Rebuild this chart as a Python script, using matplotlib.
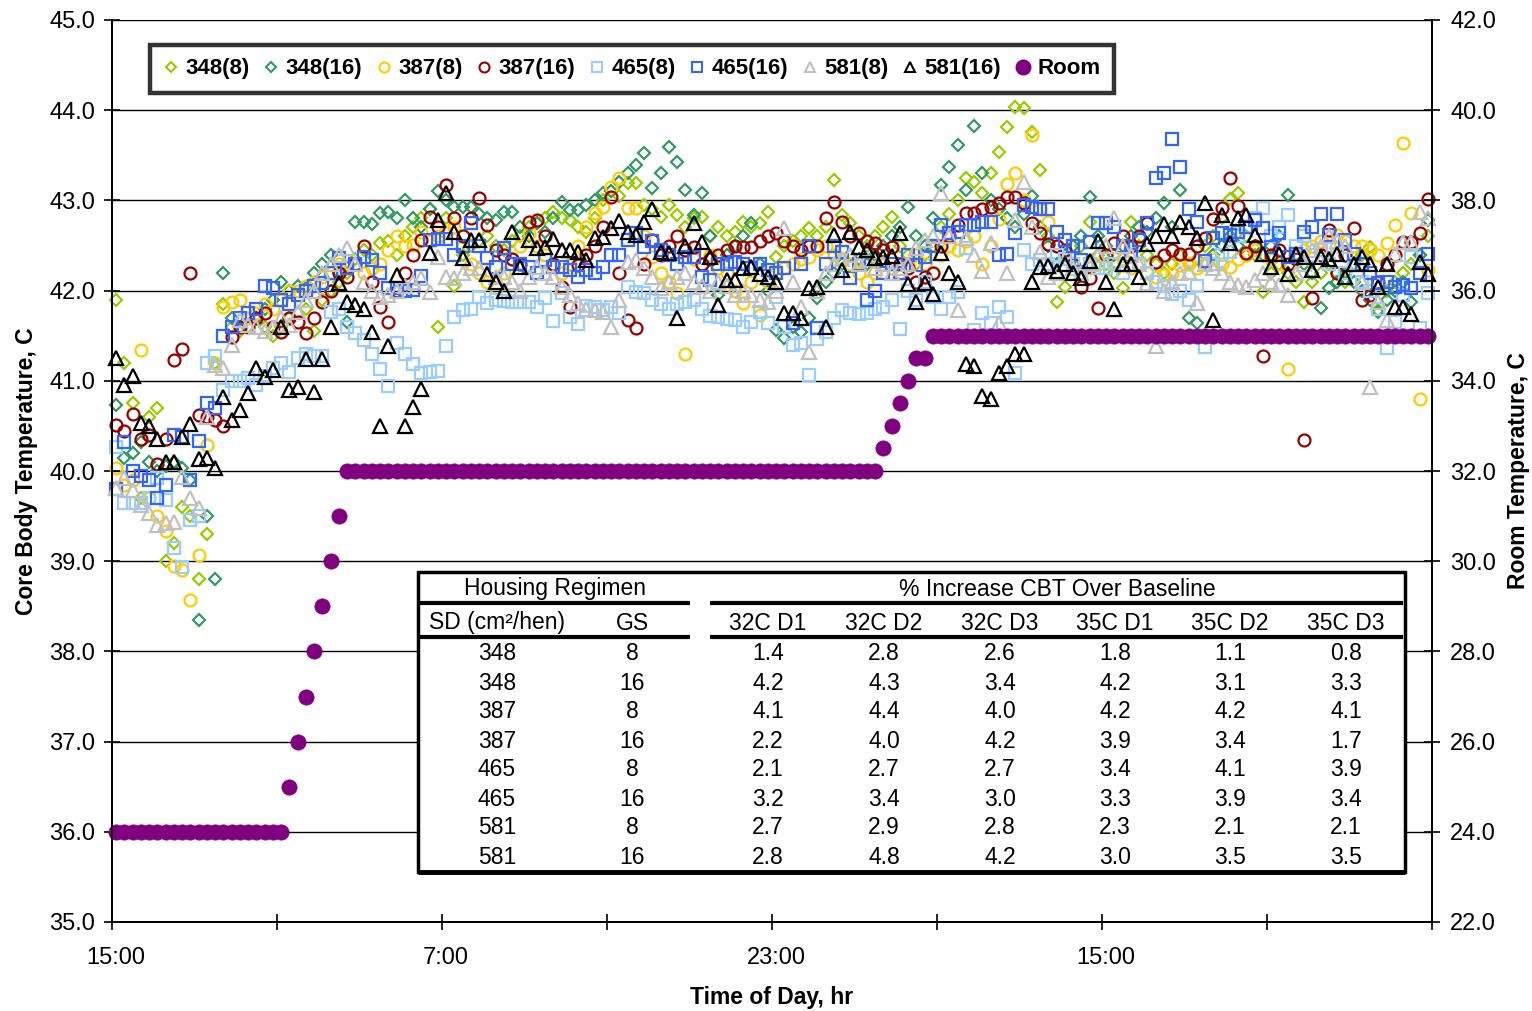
import numpy as np
import matplotlib
matplotlib.use("Agg")
import matplotlib.pyplot as plt
from matplotlib.lines import Line2D
from matplotlib.patches import Rectangle
from matplotlib.transforms import ScaledTranslation

plt.rcParams['font.family'] = ['Liberation Sans', 'DejaVu Sans']

# ---------------- data (sampling every 0.4 h, starting 0.2 h after 15:00) ----------------
n_pts = 160
hours = 0.2 + 0.4 * np.arange(n_pts)

s348_8 = [41.9, 41.2, 40.75, 39.7, 40.6, 40.7, 39.0, 39.2, 39.6, 39.5, 38.8, 39.3, 41.2, 41.85, 41.6, 41.55, 41.6, 41.7, 41.6, 41.5,
          41.6, 41.7, 41.75, 41.8, 41.55, 41.9, 42.0, 42.1, 42.2, 42.35, 42.45, 42.4, 42.53, 42.55, 42.39, 42.6, 42.7, 42.8, 42.91, 41.6,
          42.8, 42.05, 42.4, 42.5, 42.55, 42.6, 42.5, 42.45, 42.55, 42.6, 42.7, 42.75, 42.8, 42.87, 42.8, 42.78, 42.7, 42.65, 42.8, 43.0,
          43.1, 43.05, 43.19, 43.19, 42.95, 42.9, 42.82, 42.95, 42.84, 42.7, 42.8, 42.82, 42.6, 42.71, 42.6, 42.65, 42.76, 42.7, 42.75, 42.87,
          42.37, 42.5, 42.55, 42.6, 42.69, 42.6, 42.7, 43.23, 42.84, 42.75, 42.6, 42.5, 42.6, 42.7, 42.82, 42.5, 42.4, 42.3, 42.4, 42.5,
          42.7, 42.85, 43.0, 43.25, 43.2, 43.08, 43.3, 43.54, 43.81, 44.04, 44.02, 43.76, 43.34, 42.6, 41.87, 42.04, 42.3, 42.5, 42.76, 42.4,
          42.3, 42.2, 42.03, 42.76, 42.5, 42.4, 42.3, 42.19, 42.3, 42.4, 42.3, 42.35, 42.5, 42.6, 42.8, 43.01, 43.08, 42.6, 42.4, 41.98,
          42.2, 42.3, 42.2, 42.1, 41.87, 42.1, 42.2, 42.3, 42.2, 42.1, 42.3, 42.4, 42.48, 41.78, 42.0, 42.1, 42.2, 42.3, 42.4, 42.6]

s348_16 = [40.73, 40.14, 40.2, 40.32, 40.1, 40.0, 40.05, 40.1, 40.03, 39.9, 38.35, 39.5, 38.8, 42.19, 41.7, 41.6, 41.6, 41.7, 41.8, 41.9,
           42.1, 42.0, 42.05, 42.03, 42.2, 42.3, 42.4, 42.2, 41.65, 42.76, 42.76, 42.74, 42.86, 42.87, 42.8, 43.0, 42.8, 42.7, 42.9, 43.1,
           43.0, 42.93, 42.93, 42.93, 42.85, 42.8, 42.78, 42.87, 42.87, 42.7, 42.6, 42.75, 42.65, 42.8, 42.98, 42.89, 42.89, 42.95, 43.0, 43.08,
           43.1, 43.2, 43.3, 43.39, 43.52, 43.14, 43.3, 43.59, 43.43, 43.12, 42.84, 43.08, 42.6, 41.95, 42.4, 42.5, 42.6, 42.75, 42.3, 42.0,
           41.56, 41.47, 41.6, 41.54, 41.7, 41.92, 42.1, 42.2, 42.3, 42.4, 42.35, 42.3, 42.4, 42.5, 42.6, 42.7, 42.93, 42.6, 42.5, 42.8,
           43.17, 43.37, 43.61, 43.12, 43.82, 43.3, 43.0, 42.9, 42.8, 42.7, 42.85, 43.05, 42.7, 42.5, 42.3, 42.4, 42.5, 42.6, 43.04, 42.6,
           42.5, 42.4, 42.5, 42.6, 42.7, 42.65, 42.8, 42.97, 42.7, 43.12, 41.7, 41.64, 42.3, 42.4, 42.5, 42.6, 42.5, 42.4, 42.5, 42.4,
           42.5, 42.6, 43.06, 42.4, 42.3, 42.2, 41.81, 42.03, 42.1, 42.2, 42.1, 42.0, 41.9, 41.76, 41.9, 42.0, 42.1, 41.87, 42.4, 42.78]

s387_8 = [40.03, 39.85, 39.9, 41.34, 39.7, 39.5, 39.33, 38.95, 38.9, 38.57, 39.07, 40.29, 41.2, 41.82, 41.87, 41.9, 41.7, 41.75, 41.85, 41.8,
          41.9, 42.0, 42.0, 42.05, 42.1, 42.15, 42.2, 42.3, 42.25, 42.3, 42.2, 42.25, 42.3, 42.45, 42.6, 42.5, 42.51, 42.65, 42.55, 42.6,
          42.65, 42.7, 42.5, 42.3, 42.2, 42.1, 42.03, 42.2, 42.35, 42.5, 42.64, 42.5, 42.4, 42.3, 42.2, 42.3, 42.5, 42.7, 42.86, 42.93,
          43.15, 43.25, 42.92, 42.92, 42.6, 42.37, 42.2, 42.1, 41.97, 41.3, 42.35, 42.3, 42.4, 42.25, 42.2, 42.0, 41.86, 42.1, 41.73, 42.1,
          42.2, 42.25, 42.3, 42.35, 42.37, 42.45, 42.5, 42.4, 42.35, 42.3, 42.2, 42.1, 42.2, 42.3, 42.25, 42.2, 42.3, 42.4, 42.3, 42.2,
          42.4, 42.5, 42.45, 42.55, 42.6, 42.3, 42.5, 42.79, 43.18, 43.3, 43.0, 43.73, 42.9, 42.76, 42.5, 42.35, 42.3, 42.2, 42.25, 42.3,
          42.4, 42.3, 42.35, 42.25, 42.3, 42.2, 42.15, 42.17, 42.2, 42.28, 42.3, 42.25, 42.3, 42.35, 42.3, 42.26, 42.35, 42.4, 42.45, 42.4,
          42.35, 42.3, 41.13, 42.4, 42.45, 42.5, 42.55, 42.5, 42.62, 42.55, 42.5, 42.5, 42.45, 42.4, 42.53, 42.73, 43.64, 42.86, 40.8, 42.23]

s387_16 = [40.51, 40.44, 40.63, 40.35, 40.4, 40.08, 40.36, 41.23, 41.35, 42.2, 40.62, 40.6, 40.57, 40.5, 41.49, 41.6, 41.6, 41.7, 41.75, 41.6,
           41.54, 41.7, 41.65, 41.53, 41.7, 41.87, 42.0, 42.2, 42.15, 42.3, 42.5, 42.1, 41.82, 41.65, 42.0, 42.2, 42.4, 42.56, 42.82, 42.7,
           43.17, 42.8, 42.6, 42.8, 43.03, 42.73, 42.45, 42.4, 42.35, 42.3, 42.76, 42.78, 42.6, 42.3, 42.04, 41.82, 42.28, 42.4, 42.5, 42.7,
           43.04, 42.2, 41.67, 41.59, 42.3, 42.56, 42.4, 42.5, 42.6, 42.45, 42.48, 42.3, 42.35, 42.4, 42.45, 42.5, 42.48, 42.48, 42.55, 42.6,
           42.64, 42.55, 42.5, 42.45, 42.5, 42.5, 42.8, 42.98, 42.76, 42.6, 42.64, 42.55, 42.53, 42.45, 42.48, 42.3, 42.25, 42.1, 42.15, 42.2,
           42.49, 42.6, 42.73, 42.86, 42.86, 42.9, 42.93, 42.97, 43.04, 43.04, 42.97, 42.75, 42.64, 42.52, 42.5, 42.45, 42.3, 42.04, 42.14, 41.81,
           42.4, 42.53, 42.6, 42.5, 42.6, 42.75, 42.32, 42.4, 42.45, 42.41, 42.41, 42.5, 42.58, 42.79, 42.92, 43.25, 42.94, 42.42, 42.5, 41.27,
           42.4, 42.45, 42.3, 42.35, 40.34, 41.92, 42.4, 42.67, 42.2, 42.4, 42.69, 41.9, 41.95, 42.1, 42.3, 42.4, 42.54, 42.54, 42.64, 43.01]

s465_8 = [40.27, 39.64, 39.64, 39.65, 39.7, 39.92, 39.68, 39.15, 38.94, 39.46, 39.5, 41.2, 41.27, 40.9, 41.0, 41.0, 41.03, 40.95, 41.05, 41.14,
          41.2, 41.1, 41.25, 41.3, 41.27, 41.27, 41.76, 41.8, 41.6, 41.53, 41.45, 41.3, 41.13, 40.94, 41.42, 41.3, 41.19, 41.09, 41.1, 41.11,
          41.39, 41.71, 41.78, 41.8, 41.93, 41.86, 41.9, 41.88, 41.87, 41.87, 41.87, 41.82, 41.92, 41.66, 41.97, 41.71, 41.63, 41.83, 41.82, 41.78,
          41.82, 41.75, 42.04, 41.98, 41.97, 41.9, 41.85, 41.8, 41.85, 41.87, 41.9, 41.8, 41.72, 41.71, 41.69, 41.67, 41.6, 41.65, 41.76, 41.64,
          41.93, 41.6, 41.4, 41.42, 41.06, 41.46, 41.54, 41.7, 41.78, 41.75, 41.74, 41.75, 41.8, 41.82, 41.9, 41.57, 42.0, 41.9, 42.1, 41.93,
          41.8, 41.93, 41.98, 42.47, 41.56, 41.75, 41.64, 41.82, 41.71, 41.09, 42.45, 42.3, 42.34, 42.3, 42.4, 42.35, 42.3, 42.2, 42.3, 42.25,
          42.25, 42.3, 42.2, 42.4, 42.3, 42.2, 42.1, 42.05, 41.96, 42.0, 41.9, 42.05, 41.37, 42.3, 42.4, 42.43, 42.6, 42.7, 42.8, 42.92,
          42.6, 42.7, 42.84, 42.5, 42.6, 42.4, 42.45, 42.3, 42.4, 42.2, 42.3, 42.1, 42.0, 41.8, 41.36, 41.65, 41.95, 42.37, 41.58, 41.97]

s465_16 = [39.8, 40.32, 40.0, 39.95, 39.9, 39.7, 39.85, 40.4, 40.38, 39.9, 40.33, 40.75, 40.7, 41.5, 41.6, 41.7, 41.75, 41.8, 42.05, 42.03,
           41.9, 41.85, 41.95, 42.0, 42.05, 42.08, 42.2, 42.36, 42.25, 42.3, 42.37, 42.34, 42.19, 42.03, 42.03, 42.0, 42.01, 42.16, 42.56, 42.57,
           42.57, 42.39, 42.5, 42.75, 42.5, 42.36, 42.26, 42.47, 42.3, 42.3, 42.26, 42.2, 42.34, 42.26, 42.26, 42.23, 42.15, 42.23, 42.2, 42.26,
           42.39, 42.39, 42.56, 42.64, 42.48, 42.55, 42.45, 42.4, 42.3, 42.37, 42.37, 42.15, 42.12, 42.3, 42.3, 42.32, 42.3, 42.25, 42.3, 42.23,
           42.2, 42.25, 41.64, 42.3, 42.5, 41.58, 42.3, 42.5, 42.43, 42.14, 42.3, 41.9, 42.0, 42.2, 42.3, 42.2, 42.4, 42.28, 42.37, 42.5,
           42.73, 42.64, 42.65, 42.73, 42.73, 42.76, 42.76, 42.39, 42.41, 42.64, 42.95, 42.93, 42.91, 42.9, 42.65, 42.56, 42.5, 42.34, 42.54, 42.75,
           42.75, 42.71, 42.5, 42.39, 42.56, 42.75, 43.25, 43.3, 43.68, 43.37, 42.9, 42.76, 42.33, 42.58, 42.64, 42.62, 42.65, 42.7, 42.78, 42.69,
           42.48, 42.64, 42.37, 42.41, 42.65, 42.7, 42.85, 42.62, 42.85, 42.56, 42.41, 42.3, 42.2, 42.08, 42.1, 42.04, 42.06, 42.03, 42.2, 42.41]

s581_8 = [39.81, 39.92, 39.79, 39.62, 39.53, 39.4, 39.42, 39.43, 39.93, 39.7, 39.59, 40.6, 41.17, 41.14, 41.4, 41.67, 41.62, 41.6, 41.55, 41.6,
          41.7, 41.62, 41.76, 41.9, 42.0, 42.2, 42.3, 42.4, 42.47, 42.3, 42.1, 42.0, 41.93, 41.95, 42.0, 42.05, 42.1, 42.14, 41.99, 42.37,
          42.15, 42.14, 42.2, 42.25, 42.25, 42.2, 42.15, 42.15, 42.1, 42.0, 42.15, 42.26, 42.2, 42.15, 42.04, 41.95, 41.86, 41.8, 41.78, 41.76,
          41.6, 41.9, 42.32, 42.34, 42.25, 42.15, 42.03, 42.1, 42.15, 42.2, 42.1, 42.05, 42.0, 42.1, 42.05, 41.95, 42.0, 41.95, 41.9, 41.87,
          42.0, 42.69, 42.1, 41.82, 41.32, 42.0, 42.2, 42.3, 42.35, 42.4, 42.3, 42.35, 42.25, 42.3, 42.2, 42.25, 42.3, 42.47, 42.56, 42.6,
          43.08, 42.6, 41.78, 42.58, 42.4, 42.22, 42.53, 41.64, 42.2, 42.78, 43.2, 42.7, 42.43, 42.15, 42.2, 42.3, 42.25, 42.2, 42.3, 42.4,
          42.5, 42.8, 42.5, 42.4, 42.3, 42.08, 41.39, 42.0, 42.1, 42.2, 42.21, 41.86, 42.3, 42.25, 42.2, 42.1, 42.06, 42.04, 42.12, 42.2,
          42.1, 42.06, 41.95, 42.2, 42.3, 42.45, 42.5, 42.6, 42.55, 42.5, 42.3, 42.1, 40.93, 41.87, 41.67, 42.41, 42.54, 42.54, 42.87, 42.8]

s581_16 = [41.25, 40.95, 41.05, 40.53, 40.5, 40.35, 40.1, 40.1, 40.38, 40.52, 40.13, 40.14, 40.03, 40.82, 40.56, 40.68, 40.86, 41.14, 41.04, 41.12,
           41.6, 40.9, 40.93, 41.24, 40.88, 41.24, 41.6, 42.08, 41.87, 41.84, 41.8, 41.54, 40.5, 41.39, 42.17, 40.5, 40.71, 40.91, 42.42, 42.78,
           43.08, 42.65, 42.36, 42.56, 42.56, 42.18, 42.1, 42.0, 42.65, 42.26, 42.56, 42.47, 42.48, 42.57, 42.45, 42.45, 42.43, 42.34, 42.58, 42.59,
           42.69, 42.77, 42.65, 42.62, 42.76, 42.9, 42.43, 42.42, 41.7, 42.5, 42.75, 42.54, 42.37, 41.84, 42.12, 42.12, 42.25, 42.26, 42.18, 42.15,
           42.1, 41.75, 41.75, 41.7, 42.03, 42.04, 41.6, 42.62, 42.23, 42.65, 42.48, 42.45, 42.36, 42.37, 42.38, 42.64, 42.07, 41.87, 42.08, 41.96,
           42.42, 42.2, 42.1, 41.19, 41.16, 40.83, 40.8, 41.09, 41.16, 41.3, 41.3, 42.1, 42.26, 42.27, 42.22, 42.29, 42.2, 42.14, 42.33, 42.55,
           42.1, 41.8, 42.3, 42.3, 42.15, 42.52, 42.6, 42.74, 42.6, 42.76, 42.7, 42.58, 42.97, 41.67, 42.84, 42.53, 42.81, 42.84, 42.62, 42.41,
           42.26, 42.41, 42.18, 42.41, 42.37, 42.23, 42.37, 42.35, 42.41, 42.15, 42.29, 42.37, 42.29, 42.04, 42.29, 41.82, 41.82, 41.74, 42.32, 42.18]

room = ([24.0] * 21 + [25.0, 26.0, 27.0, 28.0, 29.0, 30.0, 31.0] + [32.0] * 65
        + [32.5, 33.0, 33.5, 34.0, 34.5, 34.5] + [35.0] * 61)

series_names = ['348(8)', '348(16)', '387(8)', '387(16)', '465(8)', '465(16)', '581(8)', '581(16)']
series_vals = [s348_8, s348_16, s387_8, s387_16, s465_8, s465_16, s581_8, s581_16]
series_marker = ['D', 'D', 'o', 'o', 's', 's', '^', '^']
series_size = [6.2, 6.2, 8.6, 8.6, 8.6, 8.6, 9.6, 9.6]
series_color = ['#99CC00', '#339966', '#FFCC00', '#990000', '#99CCFF', '#3366FF', '#C0C0C0', '#000000']
room_color = '#800080'

# table
tab_sd = [348, 348, 387, 387, 465, 465, 581, 581]
tab_gs = [8, 16, 8, 16, 8, 16, 8, 16]
tab_cols = ['32C D1', '32C D2', '32C D3', '35C D1', '35C D2', '35C D3']
tab_vals = [[1.4, 2.8, 2.6, 1.8, 1.1, 0.8],
            [4.2, 4.3, 3.4, 4.2, 3.1, 3.3],
            [4.1, 4.4, 4.0, 4.2, 4.2, 4.1],
            [2.2, 4.0, 4.2, 3.9, 3.4, 1.7],
            [2.1, 2.7, 2.7, 3.4, 4.1, 3.9],
            [3.2, 3.4, 3.0, 3.3, 3.9, 3.4],
            [2.7, 2.9, 2.8, 2.3, 2.1, 2.1],
            [2.8, 4.8, 4.2, 3.0, 3.5, 3.5]]

x_tick_pos = [0, 8, 16, 24, 32, 40, 48, 56, 64]
x_tick_lab = ['15:00', '', '7:00', '', '23:00', '', '15:00', '', '']

# ---------------- figure ----------------
W, H = 1532, 1011
fig = plt.figure(figsize=(W / 100, H / 100), dpi=100)
ax = fig.add_axes([112 / W, 1 - 922 / H, 1320 / W, 902 / H])
ax.set_xlim(0, 64)
ax.set_ylim(35, 45)
ax.set_yticks(np.arange(35, 45.01, 1.0))
ax.set_yticklabels(['%.1f' % v for v in np.arange(35, 45.01, 1.0)])
ax.set_xticks(x_tick_pos)
ax.set_xticklabels(x_tick_lab)
ax.yaxis.grid(True, color='black', lw=1.0)
ax.set_axisbelow(True)
for sp in ['left', 'bottom', 'right']:
    ax.spines[sp].set_linewidth(1.3)
ax.spines['top'].set_visible(False)
ax.tick_params(axis='y', direction='inout', length=12, width=1.2, labelsize=17, pad=6)
ax.tick_params(axis='x', direction='inout', length=12, width=1.2, labelsize=17, pad=12)
shift = ScaledTranslation(0.04, 0, fig.dpi_scale_trans)
for lab in ax.get_xticklabels():
    lab.set_transform(lab.get_transform() + shift)

for name, vals, mk, ms, col in zip(series_names, series_vals, series_marker, series_size, series_color):
    ax.plot(hours, vals, linestyle='none', marker=mk, ms=ms, mfc='none', mec=col, mew=1.6,
            label=name, clip_on=False)

ax.set_ylabel('Core Body Temperature, C', fontsize=16.5, fontweight='bold')
ax.yaxis.set_label_coords(-0.056, 0.5)
ax.set_xlabel('Time of Day, hr', fontsize=16.5, fontweight='bold')
ax.xaxis.set_label_coords(0.5, -0.071)

ax2 = ax.twinx()
ax2.set_ylim(22, 42)
ax2.set_yticks(np.arange(22, 42.01, 2.0))
ax2.set_yticklabels(['%.1f' % v for v in np.arange(22, 42.01, 2.0)])
ax2.tick_params(axis='y', direction='inout', length=12, width=1.2, labelsize=17, pad=7)
for sp in ['left', 'bottom', 'right']:
    ax2.spines[sp].set_linewidth(1.3)
ax2.spines['top'].set_visible(False)
ax2.plot(hours, room, linestyle='none', marker='o', ms=11, mfc=room_color, mec=room_color,
         mew=0.5, clip_on=False)
ax2.set_ylabel('Room Temperature, C', fontsize=16.5, fontweight='bold', rotation=90)
ax2.yaxis.set_label_coords(1.057, 0.5)

# ---------------- overlay (legend + table) in pixel coords ----------------
ov = fig.add_axes([0, 0, 1, 1], zorder=10)
ov.set_xlim(0, W)
ov.set_ylim(H, 0)
ov.axis('off')
ov.patch.set_alpha(0)

handles = []
for name, mk, col in zip(series_names, series_marker, series_color):
    handles.append(Line2D([], [], linestyle='none', marker=mk,
                          ms=(5.2 if mk == 'D' else 7.2), mfc='none', mec=col, mew=1.5, label=name))
handles.append(Line2D([], [], linestyle='none', marker='o', ms=10.5, mfc=room_color,
                      mec=room_color, label='Room'))
leg = ov.legend(handles=handles, loc='upper left', bbox_to_anchor=(150 / W, 1 - 45 / H),
                bbox_transform=fig.transFigure, ncol=9, frameon=True, fancybox=False,
                borderaxespad=0, borderpad=0.6, handlelength=0.7, handletextpad=0.3,
                columnspacing=0.62, prop={'size': 16, 'weight': 'bold'})
leg.get_frame().set_edgecolor('black')
leg.get_frame().set_linewidth(3.2)

# table box
ov.add_patch(Rectangle((418, 572), 987, 300, facecolor='white', edgecolor='black', lw=2.5, zorder=1))
ov.plot([418, 1405], [872, 872], color='black', lw=3.5, solid_capstyle='butt', zorder=2)
for yy in [603, 637]:
    ov.plot([420, 690], [yy, yy], color='black', lw=3, solid_capstyle='butt', zorder=2)
    ov.plot([710, 1403], [yy, yy], color='black', lw=3, solid_capstyle='butt', zorder=2)
fs = 16.5
ov.text(555, 589, 'Housing Regimen', ha='center', va='center', fontsize=fs, zorder=3)
ov.text(1057, 589, '% Increase CBT Over Baseline', ha='center', va='center', fontsize=fs, zorder=3)
col_x = [497, 632, 768, 884, 1000, 1115, 1230, 1346]
ov.text(col_x[0], 623, 'SD (cm²/hen)', ha='center', va='center', fontsize=fs, zorder=3)
ov.text(col_x[1], 623, 'GS', ha='center', va='center', fontsize=fs, zorder=3)
for j, c in enumerate(tab_cols):
    ov.text(col_x[2 + j], 623, c, ha='center', va='center', fontsize=fs, zorder=3)
for i in range(len(tab_sd)):
    yy = 654 + 29 * i
    ov.text(col_x[0], yy, str(tab_sd[i]), ha='center', va='center', fontsize=fs, zorder=3)
    ov.text(col_x[1], yy, str(tab_gs[i]), ha='center', va='center', fontsize=fs, zorder=3)
    for j in range(len(tab_cols)):
        ov.text(col_x[2 + j], yy, '%.1f' % tab_vals[i][j], ha='center', va='center', fontsize=fs, zorder=3)

fig.savefig('out.png', dpi=100)
